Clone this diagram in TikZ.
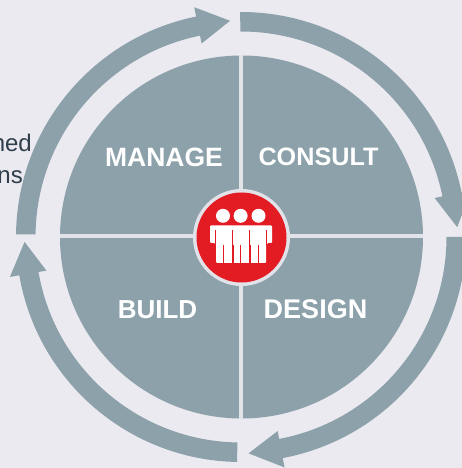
\documentclass[tikz,border=0pt]{standalone}
\usepackage{fontspec}
\setmainfont{Liberation Sans}
\definecolor{pagebg}{HTML}{EBEAF0}
\definecolor{slate}{HTML}{8CA1AA}
\definecolor{hubred}{HTML}{E31B23}
\definecolor{rule}{HTML}{E2E2E9}
\definecolor{ink}{HTML}{2F3E4A}
% start angle, neck angle, tip angle
\newcommand{\cyclearrow}[3]{%
  \fill[slate] (#1:225) arc[start angle=#1, end angle=#2, radius=225]
    -- (#2:234.5) -- (#3:216.5) -- (#2:197.5) -- (#2:205.5)
    arc[start angle=#2, end angle=#1, radius=205.5] -- cycle;}
\newcommand{\personhead}[1]{\fill[white] (#1,21.2) circle[radius=7];}
\newcommand{\legslit}[1]{\fill[hubred] ({#1-0.7},-8) rectangle ({#1+0.7},-26.5);}
\newcommand{\sideslit}[2]{\fill[hubred] ({#1-0.5},7) rectangle ({#1+0.5},-8);\fill[hubred] ({#1-#2},-8) rectangle ({#1+#2},-26.5);}
\tikzset{quadlabel/.style={text=white,inner sep=0pt},
  sidetext/.style={text=ink,font=\fontsize{24}{24}\selectfont,inner sep=0pt,anchor=base east}}
\newcommand{\qfont}[1]{\fontsize{#1}{#1}\selectfont\bfseries}
\begin{document}
\begin{tikzpicture}[x=1pt,y=1pt]
\useasboundingbox (-241,-231) rectangle (221,237);
\fill[pagebg] (-241,-231) rectangle (221,237);
\begin{scope}
\clip (-241,-231) rectangle (221,237);
\node[sidetext] (t1) at (-209,85) {ned};
\node[sidetext] (t2) at (-218,53) {ns};
\cyclearrow{90.2}{11.4}{2.6}
\cyclearrow{0}{-79.3}{-88}
\cyclearrow{-91}{-170.2}{-178.7}
\cyclearrow{179.3}{101.5}{92.9}
\end{scope}
\fill[slate] (0.5,0) circle[radius=181.5];
\draw[rule,line width=3.5pt] (0,-182) -- (0,182) (-181,1) -- (182,1);
\fill[rule] (0.5,-0.5) circle[radius=48.5];
\fill[hubred] (0.5,-0.5) circle[radius=45];
\personhead{-18}
\personhead{-0.4}
\personhead{17.5}
\fill[white,rounded corners=1pt] (-31,11.5) -- (31,11.5) -- (31,-6) -- (26,-6) -- (26,-8) -- (25,-8) -- (25,-26) -- (-25,-26) -- (-25,-8) -- (-26,-8) -- (-26,-6) -- (-31,-6) -- cycle;
\fill[hubred] (-26.4,7) rectangle (-25.4,-9);
\fill[hubred] (25.4,7) rectangle (26.4,-9);
\sideslit{-8.2}{1.1}
\sideslit{8.7}{1.1}
\legslit{-17.7}
\legslit{-0.3}
\legslit{17.3}
\node[quadlabel,font=\qfont{26.5}] (manage) at (-77,79.7) {MANAGE};
\node[quadlabel,font=\qfont{25.2}] (consult) at (77.5,79.7) {CONSULT};
\node[quadlabel,font=\qfont{26}] (build) at (-83.5,-72.3) {BUILD};
\node[quadlabel,font=\qfont{27}] (design) at (74.5,-72.3) {DESIGN};
\end{tikzpicture}
\end{document}
